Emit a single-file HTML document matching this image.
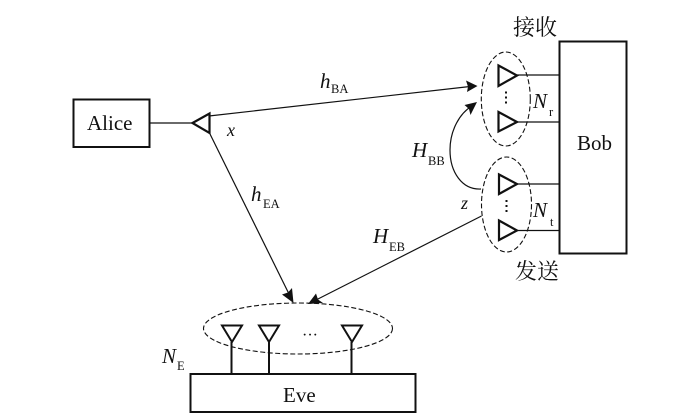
<!DOCTYPE html>
<html><head><meta charset="utf-8"><style>
html,body{margin:0;padding:0;background:#fff;width:700px;height:413px;overflow:hidden}
svg{display:block}
text{font-family:"Liberation Serif","Noto Serif CJK SC",serif;fill:#111}
.i{font-style:italic;font-size:21px}
.s{font-size:12.5px}
.b{font-size:21px}
</style></head><body>
<svg width="700" height="413" viewBox="0 0 700 413" xmlns="http://www.w3.org/2000/svg">
<g fill="#fff" stroke="#111" stroke-width="2">
<rect x="73.5" y="99.5" width="76" height="47.5"/>
<rect x="559.5" y="41.5" width="67" height="212"/>
<rect x="190.5" y="374" width="225" height="38"/>
</g>
<g stroke="#111" stroke-width="1.2" fill="none">
<path d="M150 123H192"/>
<path d="M517 75H559M517 122H559M517 184H559M517 230.5H559"/>
<path d="M209 116L470 86.5"/>
<path d="M210 134L290 296"/>
<path d="M481.5 216L315 300.5"/>
<path d="M481 189C462 190 450 172 450 150C450 130 460 113 472 106"/>
</g>
<g fill="#111">
<path d="M477.5 86L466 80.5L468 86.8L467 92Z"/>
<path d="M293.5 303L282 294.5L288 292.5L292 288Z"/>
<path d="M308 304L316 293.5L318 299.5L323 303Z"/>
<path d="M477 102L464.5 105L469 109L470.5 115Z"/>
</g>
<g fill="none" stroke="#111" stroke-width="1.1" stroke-dasharray="5 2.5">
<ellipse cx="505.8" cy="99" rx="24.5" ry="47"/>
<ellipse cx="506.5" cy="204.5" rx="25" ry="47.5"/>
<ellipse cx="298" cy="328.5" rx="94.5" ry="25.5"/>
</g>
<g fill="#fff" stroke="#111" stroke-width="2.2">
<path d="M192.5 123L209.5 113.5V133Z"/>
<path d="M498.5 65.5V86L517 75.5Z"/>
<path d="M498.5 112V131.5L517 122Z"/>
<path d="M499 174.5V194L517 184Z"/>
<path d="M499 220.5V240L517 230.5Z"/>
</g>
<g fill="none" stroke="#111" stroke-width="2">
<path d="M222 325.5H242L232 342ZM259 325.5H279L269 342ZM342 325.5H362L352 342Z"/>
<path d="M231.5 342V374M269 342V374M351.5 342V374"/>
</g>
<g stroke="#111" stroke-width="2" stroke-dasharray="2 3" fill="none">
<path d="M506 91.5V106M506.5 200V215"/>
</g>
<text x="87" y="130" class="b">Alice</text>
<text x="577" y="150" class="b">Bob</text>
<text x="283" y="402" class="b">Eve</text>
<text x="227" y="136" class="i" style="font-size:18px">x</text>
<text x="461" y="209" class="i" style="font-size:18px">z</text>
<text x="302" y="340" style="font-size:16px">···</text>
<text x="320" y="88" class="i">h</text><text x="331" y="93" class="s">BA</text>
<text x="251" y="201" class="i">h</text><text x="263" y="208" class="s">EA</text>
<text x="412" y="157" class="i">H</text><text x="428" y="165" class="s">BB</text>
<text x="373" y="243" class="i">H</text><text x="389" y="251" class="s">EB</text>
<text x="533" y="108" class="i">N</text><text x="549" y="116" class="s">r</text>
<text x="533" y="217" class="i">N</text><text x="550" y="226" class="s">t</text>
<text x="162" y="363" class="i">N</text><text x="177" y="370" class="s">E</text>
<text x="513" y="35" style="font-size:22px">接收</text>
<text x="515" y="279" style="font-size:22px">发送</text>
</svg>
</body></html>
